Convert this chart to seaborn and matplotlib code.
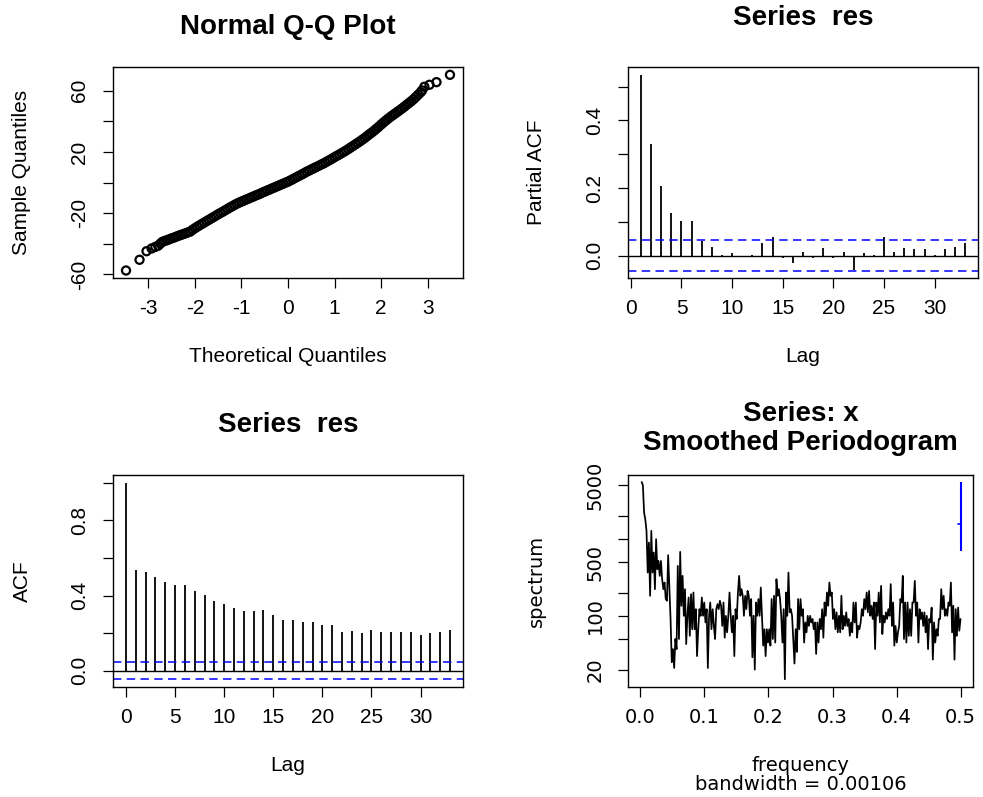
import numpy as np
import pandas as pd
import matplotlib
matplotlib.use("Agg")
import matplotlib.pyplot as plt
import seaborn as sns

# ---------------- data ----------------
# Normal Q-Q plot: lower tail, dense band, upper tail (theoretical, sample)
qq_theoretical = [-3.48, -3.19, -3.04, -2.93, -2.85, -2.79, -2.74,
    -2.70, -2.65, -2.60, -2.55, -2.50, -2.45, -2.40, -2.35, -2.30, -2.25, -2.20, -2.15, -2.10,
    -2.05, -2.00, -1.95, -1.90, -1.85, -1.80, -1.75, -1.70, -1.65, -1.60, -1.55, -1.50, -1.45,
    -1.40, -1.35, -1.30, -1.25, -1.20, -1.15, -1.10, -1.05, -1.00, -0.95, -0.90, -0.85, -0.80,
    -0.75, -0.70, -0.65, -0.60, -0.55, -0.50, -0.45, -0.40, -0.35, -0.30, -0.25, -0.20, -0.15,
    -0.10, -0.05, 0.00, 0.05, 0.10, 0.15, 0.20, 0.25, 0.30, 0.35, 0.40, 0.45, 0.50, 0.55, 0.60,
    0.65, 0.70, 0.75, 0.80, 0.85, 0.90, 0.95, 1.00, 1.05, 1.10, 1.15, 1.20, 1.25, 1.30, 1.35,
    1.40, 1.45, 1.50, 1.55, 1.60, 1.65, 1.70, 1.75, 1.80, 1.85, 1.90, 1.95, 2.00, 2.05, 2.10,
    2.15, 2.20, 2.25, 2.30, 2.35, 2.40, 2.45, 2.50, 2.55, 2.60, 2.65, 2.70, 2.75, 2.80, 2.85,
    2.88, 2.93, 3.04, 3.19, 3.48]
qq_sample = [-57.4, -50.4, -44.8, -43.0, -42.0, -41.2, -39.8,
    -38.7, -38.1, -37.6, -37.0, -36.4, -35.9, -35.3, -34.7, -34.2, -33.6, -33.1, -32.5, -32.0,
    -30.8, -29.8, -28.8, -27.9, -27.0, -26.1, -25.2, -24.3, -23.4, -22.5, -21.6, -20.7, -19.8,
    -19.0, -18.1, -17.2, -16.3, -15.5, -14.6, -13.8, -13.1, -12.4, -11.8, -11.1, -10.5, -9.8,
    -9.2, -8.5, -7.9, -7.3, -6.5, -5.9, -5.2, -4.6, -3.9, -3.3, -2.6, -2.0, -1.3,
    -0.7, 0.0, 0.6, 1.4, 2.2, 3.0, 3.8, 4.6, 5.4, 6.2, 7.1, 7.8, 8.6, 9.3, 10.1,
    10.8, 11.6, 12.3, 13.1, 14.0, 14.8, 15.7, 16.6, 17.5, 18.3, 19.2, 20.1, 21.0, 22.0, 23.0,
    24.0, 25.0, 26.0, 27.0, 28.1, 29.2, 30.4, 31.6, 32.7, 33.9, 35.2, 36.5, 37.9, 39.2, 40.5,
    41.7, 42.9, 44.0, 45.1, 46.2, 47.3, 48.4, 49.6, 50.8, 52.0, 53.2, 54.5, 56.0, 57.5, 59.0,
    60.2, 62.6, 63.9, 65.6, 70.4]

# Partial ACF (lags 1..33)
pacf_lags = list(range(1, 34))
pacf_values = [0.535, 0.330, 0.206, 0.126, 0.102, 0.102, 0.042, 0.027, 0.001, 0.007,
               -0.005, 0.002, 0.037, 0.056, -0.007, -0.021, 0.012, -0.007, 0.024, -0.007,
               0.012, -0.042, 0.008, 0.001, 0.056, 0.012, 0.024, 0.019, 0.019, 0.001,
               0.019, 0.027, 0.037]

# ACF (lags 0..33)
acf_lags = list(range(0, 34))
acf_values = [1.0, 0.537, 0.528, 0.498, 0.470, 0.454, 0.454, 0.422, 0.401, 0.369,
              0.355, 0.334, 0.318, 0.318, 0.325, 0.295, 0.272, 0.272, 0.258, 0.258,
              0.242, 0.242, 0.205, 0.212, 0.198, 0.219, 0.205, 0.205, 0.205, 0.205,
              0.189, 0.198, 0.205, 0.219]

ci_bound = 0.045  # white-noise bound for ACF/PACF

# Smoothed periodogram
spec_values = [5470, 4960, 2190, 1790, 1270, 365, 894, 182, 1270, 365, 664, 222, 988, 403, 517,
    330, 517, 299, 222, 271, 165, 157, 613, 245, 91, 25, 37, 21, 50, 37, 445, 50, 677, 135, 330,
    100, 222, 43, 100, 173, 55, 191, 67, 201, 67, 122, 30, 67, 122, 100, 173, 100, 149, 82, 122,
    21, 100, 149, 67, 122, 74, 50, 122, 142, 122, 157, 135, 74, 149, 52, 100, 61, 100, 201, 100,
    61, 100, 30, 122, 91, 201, 330, 182, 222, 182, 100, 182, 122, 211,
    182, 100, 165, 29, 100, 20, 149, 100, 165, 100, 233, 100, 41, 67, 30, 67, 45, 67, 41, 165,
    50, 182, 45, 299, 182, 222, 165, 100, 45, 122, 15, 201, 100, 365, 111, 122, 100, 50, 24, 67,
    34, 165, 67, 165, 100, 122, 45, 82, 61, 100, 74, 100, 82, 91, 67, 82, 32, 82, 45, 91, 67, 122,
    52, 149, 100, 201, 135, 271, 182, 201, 91, 122, 67, 111, 61, 100, 61, 182, 67, 100, 74, 111,
    74, 91, 55, 82, 61, 149, 82, 149, 52, 74, 67,
    82, 122, 100, 165, 122, 201, 111, 211, 100, 135, 91, 149, 37, 149, 100, 201, 82, 245, 58, 100,
    82, 111, 91, 122, 100, 258, 74, 149, 41, 74, 45, 61, 74, 165, 149, 330, 50, 149, 45, 149, 55,
    122, 55, 149, 149, 284, 100, 149, 45, 122, 91, 111, 74, 111, 61, 100, 37, 91, 82, 128, 27, 82,
    45, 67, 55, 91, 91, 222, 122, 182, 100, 122, 100, 149, 135, 271, 61, 135, 27, 122, 55, 128,
    64, 91]
spec_freq = np.arange(1, len(spec_values) + 1) / (2.0 * len(spec_values))  # Fourier frequencies
spec_ci = [703, 1545, 5520]  # lower, centre, upper of the CI bar
bandwidth = "0.00106"

# ---------------- style ----------------
sns.set_theme(style="ticks")
plt.rcParams["font.family"] = ["Liberation Sans", "DejaVu Sans"]
plt.rcParams.update({
    "axes.edgecolor": "black", "axes.linewidth": 1.0, "axes.facecolor": "white",
    "figure.facecolor": "white", "xtick.color": "black", "ytick.color": "black",
    "text.color": "black", "axes.labelcolor": "black",
})

R_FONT = ["Liberation Sans", "DejaVu Sans"]
P_FONT = ["DejaVu Sans"]
BLUE = "#0000FF"
TICK_FS = 15
LAB_FS = 15
TITLE_FS = 20

fig = plt.figure(figsize=(9.83, 7.97), dpi=100)
W, H = 983.0, 797.0


def add_ax(left, top, right, bottom):
    return fig.add_axes([left / W, 1 - bottom / H, (right - left) / W, (bottom - top) / H])


def r_axes(ax, fam, fs, xpad=8, ypad=10):
    for s in ax.spines.values():
        s.set_visible(True)
        s.set_color("black")
        s.set_linewidth(1.0)
    ax.tick_params(axis="both", which="major", direction="out", length=7, width=0.9,
                   labelsize=fs)
    ax.tick_params(axis="x", pad=xpad)
    ax.tick_params(axis="y", pad=ypad)
    ax.tick_params(axis="both", which="minor", length=0)
    for lab in ax.get_xticklabels() + ax.get_yticklabels():
        lab.set_family(fam)
    ax.grid(False)


def set_labels(ax, xlabel, ylabel, xy, yx, fam, fs):
    ax.set_xlabel(xlabel, fontsize=fs, family=fam)
    ax.set_ylabel(ylabel, fontsize=fs, family=fam)
    ax.xaxis.set_label_coords(0.5, xy)
    ax.yaxis.set_label_coords(yx, 0.5)
    ax.xaxis.label.set_va("center")
    ax.yaxis.label.set_va("center")


# ---- Panel 1: Normal Q-Q ----
ax1 = add_ax(113, 67, 463, 278)
qq = pd.DataFrame({"theoretical": qq_theoretical, "sample": qq_sample})
sns.scatterplot(data=qq, x="theoretical", y="sample", ax=ax1, marker="o", s=34,
                facecolor="none", edgecolor="black", linewidth=1.6, legend=False)
ax1.set_xlim(-3.76, 3.76)
ax1.set_ylim(-62.3, 75.5)
ax1.set_xticks([-3, -2, -1, 0, 1, 2, 3], ["-3", "-2", "-1", "0", "1", "2", "3"])
ax1.set_yticks([-60, -40, -20, 0, 20, 40, 60], ["-60", "", "-20", "", "20", "", "60"],
               rotation=90, va="center")
r_axes(ax1, R_FONT, TICK_FS)
set_labels(ax1, "Theoretical Quantiles", "Sample Quantiles", -0.374, -0.26, R_FONT, LAB_FS)
ax1.set_title("Normal Q-Q Plot", fontsize=TITLE_FS, fontweight="bold", family=R_FONT,
              y=1.19, va="center", pad=0)

# ---- Panel 2: PACF ----
ax2 = add_ax(628, 67, 978, 278)
ax2.vlines(pacf_lags, 0, pacf_values, color="black", linewidth=1.3)
ax2.axhline(0, color="black", linewidth=1.0)
for b in (ci_bound, -ci_bound):
    ax2.axhline(b, color=BLUE, linewidth=1.1, linestyle=(0, (5.5, 3.5)))
ax2.set_xlim(-0.28, 34.28)
ax2.set_ylim(-0.066, 0.558)
ax2.set_xticks([0, 5, 10, 15, 20, 25, 30], ["0", "5", "10", "15", "20", "25", "30"])
ax2.set_yticks([0, 0.1, 0.2, 0.3, 0.4, 0.5], ["0.0", "", "0.2", "", "0.4", ""],
               rotation=90, va="center")
r_axes(ax2, R_FONT, TICK_FS)
set_labels(ax2, "Lag", "Partial ACF", -0.374, -0.26, R_FONT, LAB_FS)
ax2.set_title("Series  res", fontsize=TITLE_FS, fontweight="bold", family=R_FONT,
              y=1.232, va="center", pad=0)

# ---- Panel 3: ACF ----
ax3 = add_ax(113, 475, 463, 687)
ax3.vlines(acf_lags, 0, acf_values, color="black", linewidth=1.3)
ax3.axhline(0, color="black", linewidth=1.0)
for b in (ci_bound, -ci_bound):
    ax3.axhline(b, color=BLUE, linewidth=1.1, linestyle=(0, (5.5, 3.5)))
ax3.set_xlim(-1.32, 34.32)
ax3.set_ylim(-0.087, 1.042)
ax3.set_xticks([0, 5, 10, 15, 20, 25, 30], ["0", "5", "10", "15", "20", "25", "30"])
ax3.set_yticks([0, 0.2, 0.4, 0.6, 0.8, 1.0], ["0.0", "", "0.4", "", "0.8", ""],
               rotation=90, va="center")
r_axes(ax3, R_FONT, TICK_FS)
set_labels(ax3, "Lag", "ACF", -0.368, -0.26, R_FONT, LAB_FS)
ax3.set_title("Series  res", fontsize=TITLE_FS, fontweight="bold", family=R_FONT,
              y=1.236, va="center", pad=0)

# ---- Panel 4: smoothed periodogram ----
ax4 = add_ax(628, 475, 973, 687)
ax4.set_yscale("log")
spec = pd.DataFrame({"frequency": spec_freq, "spectrum": spec_values})
sns.lineplot(data=spec, x="frequency", y="spectrum", ax=ax4, color="black", linewidth=1.25,
             estimator=None, sort=False)
ax4.vlines(0.5, spec_ci[0], spec_ci[2], color=BLUE, linewidth=1.5)
ax4.plot([0.4965, 0.5], [spec_ci[1], spec_ci[1]], color=BLUE, linewidth=1.2)
ax4.set_xlim(-0.0195, 0.5195)
ax4.set_ylim(11.9, 6745)
ax4.set_xticks([0, 0.1, 0.2, 0.3, 0.4, 0.5], ["0.0", "0.1", "0.2", "0.3", "0.4", "0.5"])
ax4.set_yticks([20, 50, 100, 200, 500, 1000, 2000, 5000],
               ["20", "", "100", "", "500", "", "", "5000"], rotation=90, va="center")
ax4.minorticks_off()
r_axes(ax4, P_FONT, 14)
set_labels(ax4, "frequency\nbandwidth = " + bandwidth, "spectrum", -0.415, -0.264, P_FONT, 14)
ax4.xaxis.label.set_linespacing(0.95)
ax4.set_title("Series: x\nSmoothed Periodogram", fontsize=TITLE_FS, fontweight="bold",
              family=R_FONT, y=1.219, va="center", pad=0, linespacing=1.15)

fig.savefig("out.png", dpi=100)
